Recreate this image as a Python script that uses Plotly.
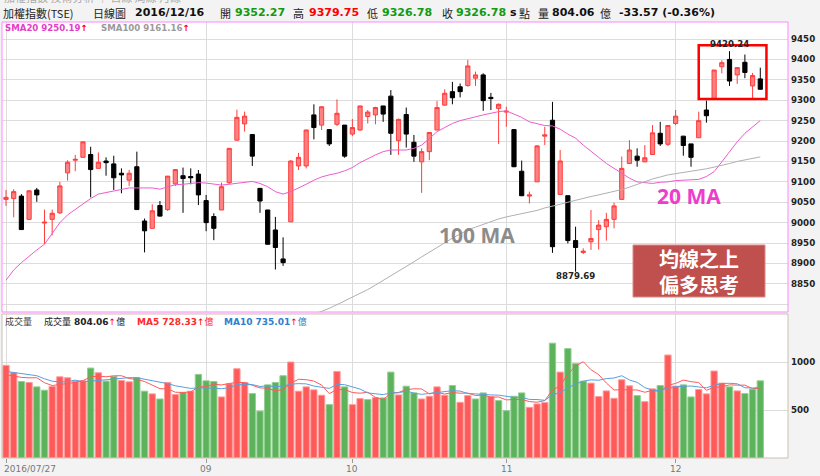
import plotly.graph_objects as go

# ---------------- DATA ----------------
opens = [9057, 9059, 9065, 9008, 9080, 8999, 9008, 9024, 9122, 9153,
         9160, 9167, 9133, 9151, 9144, 9121, 9104, 9137, 9004, 8986,
         9042, 9032, 9095, 9115, 9113, 9119, 9054, 9015, 9031, 9098,
         9202, 9242, 9216, 9084, 9031, 8982, 8911, 9002, 9139, 9139,
         9264, 9239, 9228, 9241, 9239, 9217, 9227, 9260, 9264, 9286,
         9310, 9201, 9265, 9197, 9149, 9174, 9227, 9288, 9321, 9333,
         9336, 9354, 9362, 9307, 9280, 9271, 9228, 9126, 9065, 9100,
         9212, 9251, 9069, 9066, 8956, 8927, 8953, 8983, 8990, 9008,
         9057, 9145, 9163, 9149, 9167, 9219, 9192, 9243, 9212, 9193,
         9208, 9276, 9302, 9382, 9400, 9362, 9393, 9335, 9352.27]
highs = [9080, 9082, 9070, 9080, 9085, 9032, 9032, 9100, 9153, 9166,
         9198, 9186, 9172, 9160, 9164, 9133, 9129, 9174, 9010, 9045,
         9053, 9114, 9130, 9135, 9133, 9129, 9068, 9023, 9098, 9182,
         9277, 9272, 9216, 9084, 9031, 9014, 8964, 9153, 9171, 9228,
         9290, 9284, 9228, 9302, 9239, 9254, 9286, 9276, 9284, 9286,
         9325, 9255, 9282, 9215, 9182, 9221, 9298, 9327, 9345, 9341,
         9399, 9370, 9366, 9318, 9292, 9284, 9228, 9152, 9076, 9190,
         9235, 9296, 9178, 9066, 8990, 8937, 9031, 9006, 9024, 9049,
         9162, 9202, 9182, 9190, 9239, 9247, 9238, 9276, 9212, 9193,
         9272, 9299, 9374, 9398, 9420.24, 9380, 9412, 9367, 9379.75]
lows = [9041, 9013, 8982, 9006, 9051, 8947, 8969, 9021, 9103, 9126,
        9160, 9062, 9133, 9115, 9080, 9072, 9090, 9031, 8927, 8986,
        9015, 9029, 9090, 9024, 9094, 9043, 8979, 8957, 9031, 9094,
        9202, 9223, 9139, 9024, 8946, 8885, 8894, 9002, 9129, 9133,
        9204, 9227, 9188, 9237, 9159, 9212, 9225, 9243, 9241, 9247,
        9166, 9166, 9184, 9149, 9073, 9153, 9227, 9286, 9290, 9307,
        9333, 9335, 9274, 9276, 9193, 9235, 9136, 9065, 9047, 9100,
        9190, 8926, 9069, 8949, 8879.69, 8923, 8933, 8934, 8956, 8986,
        9057, 9145, 9137, 9148, 9167, 9188, 9188, 9239, 9164, 9137,
        9208, 9245, 9302, 9366, 9335, 9340, 9354, 9305, 9326.78]
closes = [9062, 9076, 8983, 9078, 9068, 9001, 9023, 9090, 9148, 9155,
          9198, 9130, 9148, 9147, 9110, 9117, 9121, 9032, 8980, 9029,
          9016, 9114, 9130, 9108, 9110, 9068, 9000, 8986, 9088, 9182,
          9258, 9261, 9163, 9053, 8947, 8939, 8902, 9151, 9160, 9227,
          9233, 9284, 9193, 9268, 9163, 9233, 9286, 9271, 9282, 9266,
          9219, 9253, 9217, 9163, 9174, 9221, 9282, 9317, 9306, 9321,
          9384, 9362, 9299, 9304, 9290, 9273, 9137, 9066, 9068, 9188,
          9215, 8941, 9151, 8956, 8939, 8930, 8961, 8994, 9008, 9041,
          9133, 9178, 9153, 9159, 9220, 9193, 9238, 9261, 9189, 9160,
          9250, 9262, 9374, 9392, 9347, 9380, 9368, 9360.35, 9326.78]
sma20 = [8859, 8884, 8902, 8918, 8933, 8947, 8974, 9000, 9019, 9032,
         9047, 9059, 9070, 9074, 9078, 9082, 9085, 9085, 9085, 9085,
         9082, 9088, 9093, 9094, 9096, 9098, 9097, 9095, 9092, 9094,
         9096, 9099, 9101, 9096, 9088, 9076, 9070, 9076, 9084, 9094,
         9104, 9112, 9117, 9121, 9127, 9135, 9147, 9157, 9166, 9174,
         9178, 9178, 9178, 9182, 9190, 9206, 9223, 9233, 9243, 9250,
         9255, 9260, 9264, 9268, 9272, 9274, 9266, 9258, 9247, 9243,
         9238, 9237, 9229, 9217, 9207, 9190, 9174, 9160, 9145, 9133,
         9121, 9109, 9100, 9098, 9096, 9099, 9100, 9103, 9104, 9104,
         9106, 9113, 9125, 9149, 9174, 9198, 9219, 9235, 9250.19]
sma100 = [None] * 40 + [
         8775, 8782, 8790, 8799, 8808, 8816, 8826, 8836, 8847, 8858,
         8870, 8881, 8892, 8904, 8916, 8928, 8940, 8951, 8962, 8972,
         8982, 8989, 8996, 9003, 9009, 9014, 9018, 9022, 9026, 9030,
         9036, 9040, 9045, 9050, 9055, 9060, 9064, 9068, 9072, 9076,
         9081, 9087, 9094, 9101, 9107, 9112, 9117, 9120, 9123, 9125,
         9128, 9132, 9136, 9140, 9145, 9150, 9154, 9157, 9161.16]
volume = [965, 888, 797, 787, 741, 706, 745, 846, 836, 801,
          804, 937, 888, 801, 850, 808, 794, 839, 696, 668,
          615, 787, 661, 682, 696, 871, 804, 797, 636, 773,
          930, 787, 671, 489, 762, 787, 857, 1000, 696, 741,
          710, 654, 556, 902, 741, 556, 619, 608, 629, 626,
          895, 657, 748, 678, 615, 643, 741, 654, 755, 580,
          650, 615, 678, 640, 598, 493, 643, 678, 528, 563,
          577, 1196, 895, 1140, 983, 801, 780, 640, 699, 622,
          815, 752, 650, 587, 720, 755, 1073, 748, 762, 636,
          713, 668, 906, 780, 741, 699, 671, 717, 804.06]
vol_ma5 = [867, 850, 840, 835, 836, 784, 755, 765, 775, 787,
           806, 845, 853, 846, 856, 857, 828, 818, 797, 761,
           722, 721, 685, 683, 688, 739, 743, 770, 761, 776,
           788, 785, 759, 730, 728, 699, 713, 779, 820, 816,
           801, 760, 671, 713, 713, 682, 675, 685, 631, 608,
           675, 683, 711, 721, 719, 668, 685, 666, 682, 675,
           676, 651, 656, 633, 636, 605, 610, 610, 588, 581,
           598, 708, 752, 874, 958, 1003, 920, 869, 781, 708,
           711, 706, 708, 685, 705, 693, 757, 777, 812, 795,
           786, 705, 737, 741, 762, 759, 759, 722, 728.33]
vol_ma10 = [902, 890, 880, 868, 857, 825, 800, 792, 795, 811,
            795, 800, 809, 811, 821, 832, 837, 836, 822, 809,
            790, 775, 752, 740, 725, 731, 732, 728, 722, 732,
            764, 764, 765, 745, 752, 744, 749, 769, 775, 772,
            750, 737, 725, 767, 764, 741, 718, 678, 672, 660,
            679, 679, 698, 676, 663, 672, 684, 689, 701, 697,
            672, 668, 661, 657, 655, 640, 631, 633, 610, 609,
            601, 659, 681, 731, 770, 800, 814, 810, 827, 833,
            857, 813, 788, 733, 707, 702, 731, 742, 748, 750,
            740, 731, 757, 776, 778, 773, 732, 729, 735.01]
month_tick_pos = [0, 26, 45, 65, 87]
month_tick_text = ["2016/07/27", "09", "10", "11", "12"]
price_ticks = [8800, 8850, 8900, 8950, 9000, 9050, 9100, 9150, 9200,
               9250, 9300, 9350, 9400, 9450]
price_tick_labels = ["", "8850", "8900", "8950", "9000", "9050", "9100",
                     "9150", "9200", "9250", "9300", "9350", "9400", "9450"]
volume_ticks = [500, 1000]
volume_tick_labels = ["500", "1000"]
box_x = [90.0, 98.8]        # highlighted range (candle positions)
box_y = [9303, 9435]        # highlighted price range
title_name = "加權指數(TSE)"
title_kind = "日線圖"
title_date = "2016/12/16"

# ---------------- FIGURE ----------------
n = len(closes)
x = list(range(n))

PL, PR, PT, PB = 2, 788, 22, 458
W, H = 820, 476


def fx(px):
    return (px - PL) / (PR - PL)


def fy(py):
    return (PB - py) / (PB - PT)


price_dom = [fy(312), 1.0]
vol_dom = [0.0, fy(314)]
x_range = [-0.52, 101.6]

GREEN = "#119a11"
BOLD = "DejaVu Sans"
CJK = "Noto Sans CJK TC"

fig = go.Figure()

fig.add_trace(go.Candlestick(
    x=x, open=opens, high=highs, low=lows, close=closes,
    xaxis="x", yaxis="y",
    increasing=dict(line=dict(color="#ff3c3c", width=1), fillcolor="#ff8080"),
    decreasing=dict(line=dict(color="#000000", width=1), fillcolor="#000000"),
    whiskerwidth=0, hoverinfo="skip", showlegend=False))

fig.add_trace(go.Scatter(x=x, y=sma20, mode="lines", xaxis="x", yaxis="y",
                         line=dict(color="#ee5ccc", width=1),
                         hoverinfo="skip", showlegend=False))
fig.add_trace(go.Scatter(x=x, y=sma100, mode="lines", xaxis="x", yaxis="y",
                         line=dict(color="#b0b0b0", width=1),
                         hoverinfo="skip", showlegend=False))

vol_colors = []
vol_lines = []
for i in range(n):
    up = i == 0 or closes[i] >= closes[i - 1]
    vol_colors.append("#ff5a5a" if up else "#5cb35c")
    vol_lines.append("#ff9c9c" if up else "#93cf93")

fig.add_trace(go.Bar(x=x, y=volume, xaxis="x2", yaxis="y2",
                     marker=dict(color=vol_colors,
                                 line=dict(color=vol_lines, width=1)),
                     hoverinfo="skip", showlegend=False))
fig.add_trace(go.Scatter(x=x, y=vol_ma5, mode="lines", xaxis="x2", yaxis="y2",
                         line=dict(color="#ff5a5a", width=1),
                         hoverinfo="skip", showlegend=False))
fig.add_trace(go.Scatter(x=x, y=vol_ma10, mode="lines", xaxis="x2", yaxis="y2",
                         line=dict(color="#5a9fdc", width=1),
                         hoverinfo="skip", showlegend=False))

fig.update_layout(
    width=W, height=H,
    margin=dict(l=PL, r=W - PR, t=PT, b=H - PB),
    paper_bgcolor="#f3f3f3", plot_bgcolor="#ffffff",
    boxgap=0.22, bargap=0.18, showlegend=False,
    xaxis=dict(domain=[0, 1], anchor="y", range=x_range,
               tickvals=month_tick_pos, showticklabels=False, ticks="",
               showgrid=True, gridcolor="#dcdcdc", gridwidth=1,
               zeroline=False, rangeslider=dict(visible=False)),
    yaxis=dict(domain=price_dom, anchor="x", side="right",
               range=[8781, 9491.7], tickvals=price_ticks,
               showticklabels=False, ticks="",
               showgrid=True, gridcolor="#dcdcdc", gridwidth=1,
               zeroline=False),
    xaxis2=dict(domain=[0, 1], anchor="y2", range=x_range,
                tickvals=month_tick_pos, showticklabels=False,
                ticks="outside", ticklen=4, tickcolor="#999999",
                showgrid=True, gridcolor="#dcdcdc", gridwidth=1,
                zeroline=False, showline=False),
    yaxis2=dict(domain=vol_dom, anchor="x2", side="right",
                range=[0, 1500], tickvals=volume_ticks,
                showticklabels=False, ticks="", showgrid=True,
                gridcolor="#dcdcdc", gridwidth=1, zeroline=False),
)

shapes = [
    # price pane frame
    dict(type="rect", xref="paper", yref="paper", x0=0, x1=1,
         y0=price_dom[0], y1=1, line=dict(color="#ff88ff", width=1),
         layer="above"),
    # volume pane frame
    dict(type="rect", xref="paper", yref="paper", x0=0, x1=1,
         y0=0, y1=vol_dom[1], line=dict(color="#cbbfb2", width=1),
         layer="above"),
    # highlight box
    dict(type="rect", xref="x", yref="y", x0=box_x[0], x1=box_x[1],
         y0=box_y[0], y1=box_y[1], line=dict(color="#ff0000", width=2.5),
         layer="above"),
    # red note box
    dict(type="rect", xref="paper", yref="paper", x0=fx(633), x1=fx(765),
         y0=fy(297), y1=fy(245), fillcolor="#c0504d",
         line=dict(color="#d88a88", width=1), layer="above"),
]
fig.update_layout(shapes=shapes)

ann = []


def txt(px, py, text, color="#222222", size=11, family=CJK, xanchor="left",
        bold=False):
    ann.append(dict(xref="paper", yref="paper", x=fx(px), y=fy(py),
                    text=text, showarrow=False, xanchor=xanchor,
                    yanchor="middle",
                    font=dict(family=family, size=size, color=color,
                              weight="bold" if bold else "normal")))


tick_font = dict(family=BOLD, size=8.7, color="#222222", weight="bold")
# right-hand axis labels, placed on the axis values
for v, lab in zip(price_ticks, price_tick_labels):
    if lab:
        ann.append(dict(xref="paper", yref="y", x=fx(789), y=v, text=lab,
                        showarrow=False, xanchor="left", yanchor="middle",
                        font=tick_font))
for v, lab in zip(volume_ticks, volume_tick_labels):
    ann.append(dict(xref="paper", yref="y2", x=fx(789), y=v, text=lab,
                    showarrow=False, xanchor="left", yanchor="middle",
                    font=tick_font))
# bottom axis labels
for k, (p, lab) in enumerate(zip(month_tick_pos, month_tick_text)):
    ann.append(dict(xref="x2", yref="paper", x=p, y=fy(469), text=lab,
                    showarrow=False,
                    xanchor="left" if k == 0 else "center",
                    xshift=-4 if k == 0 else 0, yanchor="middle",
                    font=dict(family="DejaVu Sans", size=9, color="#777777")))

chg = closes[-1] - closes[-2]
pct = chg / closes[-2] * 100

# faint breadcrumb cut at top
txt(2, -3, "加權指數 技術分析 │ 日線 周線 月線", color="#aaaaaa", size=11)

# header line
hy = 13
txt(1, hy, title_name, size=11)
txt(91, hy, title_kind, size=11)
txt(133, hy, title_date, color="#111111", size=11, family=BOLD, bold=True)
txt(218, hy, "開", size=11)
txt(233, hy, f"{opens[-1]:.2f}", color=GREEN, size=11, family=BOLD, bold=True)
txt(291, hy, "高", size=11)
txt(307, hy, f"{highs[-1]:.2f}", color="#ff0000", size=11, family=BOLD, bold=True)
txt(365, hy, "低", size=11)
txt(380, hy, f"{lows[-1]:.2f}", color=GREEN, size=11, family=BOLD, bold=True)
txt(440, hy, "收", size=11)
txt(454, hy, f"{closes[-1]:.2f}", color=GREEN, size=11, family=BOLD, bold=True)
txt(508, hy, "s", color="#111111", size=11, family=BOLD, bold=True)
txt(517, hy, "點", size=11)
txt(536, hy, "量", size=11)
txt(550, hy, f"{volume[-1]:.2f}", color="#111111", size=11, family=BOLD, bold=True)
txt(598, hy, "億", size=11)
txt(617, hy, f"{chg:.2f} ({pct:.2f}%)", color="#111111", size=11,
    family=BOLD, bold=True)

# price legend
arrow = "<span style='color:#ff0000'>↑</span>"
txt(3, 28, f"SMA20 {sma20[-1]:.2f}{arrow}", color="#e23fc6", size=8.6,
    family=BOLD, bold=True)
txt(99, 28, f"SMA100 {sma100[-1]:.2f}{arrow}", color="#9a9a9a", size=8.6,
    family=BOLD, bold=True)

# volume legend
mixed = "DejaVu Sans, Noto Sans CJK TC"
txt(3, 321, "成交量", color="#444444", size=9, family=mixed)
txt(42, 321, f"成交量 <b>{volume[-1]:.2f}</b>{arrow}億", color="#222222",
    size=9, family=mixed)
txt(135, 321, f"<b>MA5 {vol_ma5[-1]:.2f}</b>{arrow}億", color="#ff2a2a",
    size=9, family=mixed)
txt(222, 321, f"<b>MA10 {vol_ma10[-1]:.2f}</b>{arrow}億", color="#2f80d0",
    size=9, family=mixed)

# high / low labels
ann.append(dict(xref="x", yref="y", x=94, y=9439, text=f"{highs[94]:.2f}",
                showarrow=False, xanchor="center", yanchor="middle",
                font=dict(family=BOLD, size=8.6, color="#222222",
                          weight="bold")))
ann.append(dict(xref="x", yref="y", x=74, y=8869, text=f"{lows[74]:.2f}",
                showarrow=False, xanchor="center", yanchor="middle",
                font=dict(family=BOLD, size=8.6, color="#222222",
                          weight="bold")))

# big labels
txt(477, 235, "100 MA", color="#8c8c8c", size=21, family="Open Sans",
    xanchor="center", bold=True)
txt(689, 196, "20 MA", color="#ee3ccc", size=21, family="Open Sans",
    xanchor="center", bold=True)
ann.append(dict(xref="paper", yref="paper", x=fx(699), y=fy(271),
                text="均線之上<br>偏多思考", showarrow=False,
                xanchor="center", yanchor="middle",
                font=dict(family=CJK, size=20, color="#ffffff",
                          weight="bold")))

fig.update_layout(annotations=ann)

fig.write_html(
    "out.html",
    config={"displayModeBar": False},
    post_script="document.body.style.margin='0';"
                "document.body.style.overflow='hidden';")
